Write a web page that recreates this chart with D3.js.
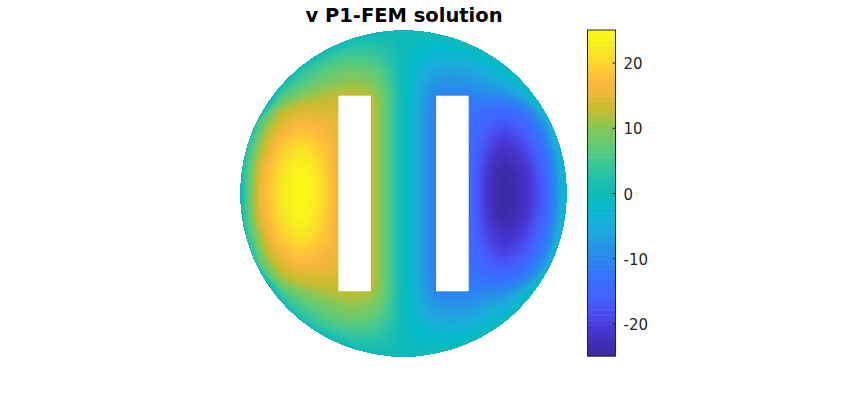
<!DOCTYPE html>
<html lang="en">
<head>
<meta charset="UTF-8">
<title>v P1-FEM solution</title>
<script src="https://d3js.org/d3.v7.min.js"></script>
<style>
  html, body { margin: 0; padding: 0; background: #fff; }
  svg { display: block; }
  text { font-family: "DejaVu Sans", sans-serif; }
</style>
</head>
<body>
<div id="chart"></div>
<script>
// mesh nodes, x and y run -1..1 in steps of 0.0625
var gridX = d3.range(33).map(function (i) { return -1 + i * 0.0625; });
var gridY = d3.range(33).map(function (i) { return 1 - i * 0.0625; });

// v, one row per y = 0, 0.0625 ... 1 (lower half is the mirror image)
var vRows = [
  [0,9,15.5,19,22,24,25,24,21,17.5,14.5,13.5,13.5,13,8.5,4,-0.5, -3.8,-7.5,-11,-12,-12,-13.5,-16.5,-20.5,-24,-25,-24,-22,-19,-15.5,-9,0],
  [0,9,15.5,19,22,24,24.8,23.8,21,17.5,14.5,13.5,13.5,13,8.5,4,-0.5, -3.8,-7.5,-11,-12,-12,-13.5,-16.5,-20.5,-23.8,-24.8,-23.8,-22,-19,-15.5,-9,0],
  [0,8.5,15,18.5,21.5,23.5,24.3,23.3,20.5,17,14.5,13.5,13.5,13,8.5,4,-0.5, -3.8,-7.5,-11,-12,-12,-13.5,-16.2,-20,-23.3,-24.3,-23.3,-21.5,-18.5,-15,-8.5,0],
  [-0.5,7.5,14,17.5,20.5,22.5,23.3,22.3,19.7,16.8,14.6,13.5,13.5,13,8.5,4,-0.5, -3.8,-7.5,-11,-12,-12,-13.5,-16,-19.3,-22.3,-23.3,-22.3,-20.5,-17.5,-14,-7.5,0.5],
  [-1,6,12.5,16.5,19.5,21.2,22,21,18.8,16.5,14.8,13.5,13.5,13,8.5,4,-0.5, -3.8,-7.5,-11,-12,-12,-13.3,-15.5,-18.5,-21,-22,-21.2,-19.5,-16.5,-12.5,-6,1],
  [-2,4,11,15,18,19.5,20.3,19.5,18,16.5,15,13.5,13.5,13,8.5,4,-0.5, -3.8,-7.5,-11,-12,-12,-13,-15,-17.6,-19.9,-20.8,-19.9,-18,-15,-11,-4,2],
  [-3,1.5,9,13.5,16,17.5,18.3,17.7,16.8,15.8,14.8,13.5,13.5,13,8.5,4,-0.5, -3.8,-7.5,-11,-12,-12,-12.8,-14.6,-16.6,-18.5,-19.2,-18.2,-16.4,-13.5,-9,-1.5,3],
  [-3,-1,6.5,11,14,15.5,16.5,16.3,15.8,15.2,14.6,13.5,13.5,13,8.5,4,-0.5, -3.8,-7.5,-11,-12,-12,-12.6,-13.9,-15.4,-16.6,-17,-16.2,-14.4,-11,-6.5,1,3],
  [-3,-3,-0.5,8.5,12,13.5,14.2,14.5,14.5,14.3,14,13.5,13.5,12.8,8.5,4,-0.5, -3.8,-7.5,-10.8,-11.8,-11.8,-12.2,-13,-13.8,-14.4,-14.4,-13.5,-11.8,-8.5,0.5,3,3],
  [-3,-3,-3,1.5,8,10.5,11.8,12.4,12.9,13.2,13.3,13.3,13,12.6,8.5,4,-0.5, -3.7,-7.5,-10.5,-11.5,-11.5,-11.5,-11.6,-11.6,-11.6,-11.2,-9.9,-7.2,-1.5,3,3,3],
  [-3,-3,-3,-3,3.5,6.5,8.5,9.8,10.8,11.6,12,12.2,12,11,8,3.8,-0.5, -3.3,-6.8,-9.2,-10,-10,-9.8,-9.5,-9,-8.4,-7.5,-5.5,-2.5,3,3,3,3],
  [-3,-3,-3,-3,-1,3.5,5.5,7.2,8.3,9.3,10,10.3,10,9,6.8,3.4,-0.5, -3,-5.7,-7.6,-8.3,-8.3,-8.2,-7.7,-6.8,-5.8,-4.5,-2.5,2,3,3,3,3],
  [-3,-3,-3,-3,-3,-1,3,4.6,6.2,7.4,8.2,8.5,8.3,7.5,5.6,3,-0.5, -2.5,-4.5,-6,-6.6,-6.7,-6.4,-5.8,-4.8,-3.5,-2,1.5,3,3,3,3,3],
  [-3,-3,-3,-3,-3,-3,-1.5,2,3.8,5,5.8,6.1,6,5.4,4.2,2.3,-0.4, -1.8,-3.2,-4.2,-4.7,-4.7,-4.4,-3.7,-2.7,-1,2,3,3,3,3,3,3],
  [-3,-3,-3,-3,-3,-3,-3,-3,-0.5,2,3.2,3.7,3.8,3.4,2.7,1.5,-0.3, -1.1,-2,-2.5,-2.8,-2.6,-2.2,-1.2,1,3,3,3,3,3,3,3,3],
  [-3,-3,-3,-3,-3,-3,-3,-3,-3,-3,-0.5,1,1.6,1.7,1.4,0.8,-0.2, -0.5,-0.9,-1.1,-1,-0.5,1,3,3,3,3,3,3,3,3,3,3],
  [-3,-3,-3,-3,-3,-3,-3,-3,-3,-3,-3,-3,-3,-1,-0.5,0,0, 0,0.5,1,3,3,3,3,3,3,3,3,3,3,3,3,3]
];

var holesX = [[-0.4, -0.2], [0.2, 0.4]];
var holesY = [-0.6, 0.6];

var colorbarTicks = [20, 10, 0, -10, -20];

// colour map as it shows in the colorbar
var cmapValues = [-25, -21, -18.5, -16, -13.5, -10, -8, -5, -2, 0, 2, 4.5, 7, 10, 12, 13, 15, 17, 20, 22.5, 25];
var cmapColors = ["#392a9d", "#4535d0", "#4a4cf0", "#4162ff", "#3a6eff", "#2a86ef", "#2596e3", "#1aaedb",
  "#03bac9", "#0ebab7", "#1dbfad", "#3cc797", "#5dca78", "#84c85a", "#b4bf38", "#c8bb2c", "#e6b835", "#fdb83c",
  "#fdd52f", "#f8ea20", "#f9fb15"];
var nColors = 64;

var svg = d3.select("#chart").append("svg")
  .attr("width", 864)
  .attr("height", 401);

var x = d3.scaleLinear().domain([-1, 1]).range([240.5, 566.5]);
var y = d3.scaleLinear().domain([-1, 1]).range([356.5, 30.5]);
var barY = d3.scaleLinear().domain([-25, 25]).range([356, 30]);
var cmap = d3.scaleLinear().domain(cmapValues).range(cmapColors);

var binW = 50 / nColors;
var bins = d3.range(nColors).map(function (i) { return -25 + i * binW; });

// mesh values, top row first
var rowsAll = vRows.slice(1).reverse().concat(vRows);
var values = [];
rowsAll.forEach(function (r) { r.forEach(function (v) { values.push(v); }); });

// contour index space -> data -> pixels
var gi = d3.scaleLinear().domain([0.5, gridX.length - 0.5]).range([gridX[0], gridX[gridX.length - 1]]);
var gj = d3.scaleLinear().domain([0.5, gridY.length - 0.5]).range([gridY[0], gridY[gridY.length - 1]]);
var path = d3.geoPath(d3.geoTransform({
  point: function (a, b) { this.stream.point(x(gi(a)), y(gj(b))); }
}));

var contours = d3.contours()
  .size([gridX.length, gridY.length])
  .smooth(true)
  .thresholds(bins.map(function (b, i) { return i === 0 ? -30 : b; }));

svg.append("clipPath").attr("id", "disc")
  .append("circle")
  .attr("cx", x(0)).attr("cy", y(0))
  .attr("r", x(1) - x(0));

svg.append("g")
  .attr("clip-path", "url(#disc)")
  .selectAll("path")
  .data(contours(values))
  .enter().append("path")
  .attr("d", path)
  .attr("fill", function (d, i) { return cmap(bins[i] + binW / 2); });

// the two holes in the domain
svg.append("g")
  .selectAll("rect")
  .data(holesX)
  .enter().append("rect")
  .attr("x", function (d) { return x(d[0]); })
  .attr("width", function (d) { return x(d[1]) - x(d[0]); })
  .attr("y", y(holesY[1]))
  .attr("height", y(holesY[0]) - y(holesY[1]))
  .attr("fill", "#fff");

// colorbar
var barLeft = 587.5, barWidth = 28;
svg.append("g")
  .selectAll("rect")
  .data(bins)
  .enter().append("rect")
  .attr("x", barLeft)
  .attr("width", barWidth)
  .attr("y", function (d) { return barY(d + binW); })
  .attr("height", barY(0) - barY(binW) + 0.5)
  .attr("fill", function (d) { return cmap(d + binW / 2); });

svg.append("rect")
  .attr("x", barLeft)
  .attr("y", barY(25))
  .attr("width", barWidth)
  .attr("height", barY(-25) - barY(25))
  .attr("fill", "none")
  .attr("stroke", "#262626")
  .attr("stroke-width", 1);

var axis = svg.append("g")
  .attr("transform", "translate(" + (barLeft + barWidth) + ",0)")
  .call(d3.axisRight(barY).tickValues(colorbarTicks).tickSizeInner(-3).tickSizeOuter(0).tickPadding(8)
    .tickFormat(function (d) { return String(d); }));
axis.select(".domain").remove();
axis.selectAll("line").attr("stroke", "#262626");
axis.selectAll("text")
  .attr("fill", "#262626")
  .attr("dy", "0.4em")
  .style("font-family", '"DejaVu Sans", sans-serif')
  .style("font-size", "15px");

svg.append("text")
  .attr("x", 404)
  .attr("y", 22)
  .attr("text-anchor", "middle")
  .attr("font-size", 19.5)
  .attr("font-weight", "bold")
  .attr("fill", "#000")
  .text("v P1-FEM solution");
</script>
</body>
</html>
